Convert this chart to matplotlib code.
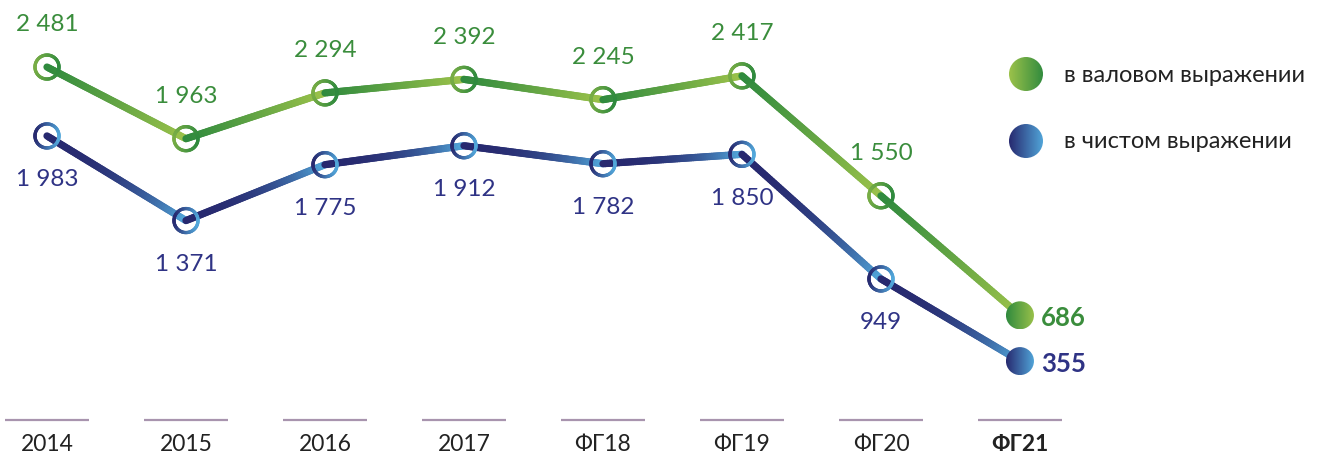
import numpy as np
import matplotlib
matplotlib.use("Agg")
import matplotlib.pyplot as plt
from matplotlib.collections import LineCollection
from matplotlib.colors import to_rgb
from matplotlib.patches import Circle
from matplotlib.transforms import ScaledTranslation

# ── data ────────────────────────────────────────────────────────────────────
periods = ["2014", "2015", "2016", "2017", "ФГ18", "ФГ19", "ФГ20", "ФГ21"]
gross = [2481, 1963, 2294, 2392, 2245, 2417, 1550, 686]
net = [1983, 1371, 1775, 1912, 1782, 1850, 949, 355]
gross_labels = ["2 481", "1 963", "2 294", "2 392", "2 245", "2 417", "1 550", "686"]
net_labels = ["1 983", "1 371", "1 775", "1 912", "1 782", "1 850", "949", "355"]
legend_names = ["в валовом выражении", "в чистом выражении"]

# ── styles ──────────────────────────────────────────────────────────────────
G_DARK, G_LIGHT, G_TEXT = "#2f8a3e", "#9cc24a", "#3a8d3c"
B_DARK, B_LIGHT, B_TEXT = "#27296f", "#52a8db", "#2f3385"
XLIM, YLIM = (-0.338, 9.209), (-324, 2973)

plt.rcParams["font.family"] = ["Lato", "DejaVu Sans"]
fig = plt.figure(figsize=(13.27, 4.56), dpi=100)
ax = fig.add_axes([0, 0, 1, 1])
ax.set_xlim(*XLIM)
ax.set_ylim(*YLIM)
ax.axis("off")


def mix(c1, c2, t):
    a, b = np.array(to_rgb(c1)), np.array(to_rgb(c2))
    return a + (b - a) * t


def grad_line(xs, ys, c_start, c_end, power=1.3, lw=5.2, n=60):
    segs, cols = [], []
    for i in range(len(xs) - 1):
        tx = np.linspace(xs[i], xs[i + 1], n + 1)
        ty = np.linspace(ys[i], ys[i + 1], n + 1)
        for k in range(n):
            segs.append([(tx[k], ty[k]), (tx[k + 1], ty[k + 1])])
            cols.append(mix(c_start, c_end, (k / n) ** power))
    ax.add_collection(LineCollection(segs, colors=cols, linewidths=lw,
                                     capstyle="round", zorder=2))


def at(x, y):
    # inch offsets around a data point
    return fig.dpi_scale_trans + ScaledTranslation(x, y, ax.transData)


def ring(x, y, c1, c2, r=0.12, lw=2.4, n=72):
    th = np.linspace(0, 2 * np.pi, n + 1)
    segs, cols = [], []
    for k in range(n):
        segs.append([(r * np.cos(th[k]), r * np.sin(th[k])),
                     (r * np.cos(th[k + 1]), r * np.sin(th[k + 1]))])
        t = (np.cos((th[k] + th[k + 1]) / 2) + 1) / 2  # left -> right
        cols.append(mix(c1, c2, t))
    ax.add_collection(LineCollection(segs, colors=cols, linewidths=lw,
                                     capstyle="round", transform=at(x, y), zorder=4))


def disc(x, y, c1, c2, r=0.14):
    px, py = ax.transData.transform((x, y))
    rp = r * fig.dpi
    (x0, y0), (x1, y1) = ax.transData.inverted().transform(
        [(px - rp, py - rp), (px + rp, py + rp)])
    img = np.array([[mix(c1, c2, t) for t in np.linspace(0, 1, 256)]])
    im = ax.imshow(img, extent=(x0, x1, y0, y1), aspect="auto",
                   interpolation="bilinear", zorder=5)
    im.set_clip_path(Circle((0, 0), r, transform=at(x, y)))


x = np.arange(len(periods))

grad_line(x, gross, G_DARK, G_LIGHT, power=1.1)
grad_line(x, net, B_DARK, B_LIGHT, power=2.6)

for i in range(len(x) - 1):
    ring(x[i], gross[i], "#78ad45", G_DARK)
    ring(x[i], net[i], B_DARK, B_LIGHT)
disc(x[-1], gross[-1], G_DARK, G_LIGHT)
disc(x[-1], net[-1], B_DARK, B_LIGHT)

# value labels
for i in range(len(x) - 1):
    ax.annotate(gross_labels[i], (x[i], gross[i]), xytext=(0, 31), textcoords="offset points",
                ha="center", va="center", fontsize=17.5, color=G_TEXT)
    ax.annotate(net_labels[i], (x[i], net[i]), xytext=(0, -31), textcoords="offset points",
                ha="center", va="center", fontsize=17.5, color=B_TEXT)
ax.annotate(gross_labels[-1], (x[-1], gross[-1]), xytext=(15, -1.5), textcoords="offset points",
            ha="left", va="center", fontsize=18.5, fontweight="bold", color=G_TEXT)
ax.annotate(net_labels[-1], (x[-1], net[-1]), xytext=(15, -1.5), textcoords="offset points",
            ha="left", va="center", fontsize=18.5, fontweight="bold", color=B_TEXT)

# category axis: short lines with labels
for i, p in enumerate(periods):
    ax.plot([x[i] - 0.3, x[i] + 0.3], [-72, -72], color="#a894ae", lw=1.6,
            solid_capstyle="butt", zorder=1)
    ax.text(x[i], -244, p, ha="center", va="center", fontsize=16.5, color="#222222",
            fontweight="bold" if i == len(periods) - 1 else "normal")

# legend
for k, (name, c1, c2) in enumerate([(legend_names[0], G_LIGHT, G_DARK),
                                    (legend_names[1], B_DARK, B_LIGHT)]):
    ly = 1 - (75 + 67 * k) / 456
    xd, yd = ax.transData.inverted().transform(fig.transFigure.transform((1026 / 1327, ly)))
    disc(xd, yd, c1, c2, r=0.17)
    fig.text(1064 / 1327, ly, name, ha="left", va="center", fontsize=17, color="#222222")

ax.set_xlim(*XLIM)
ax.set_ylim(*YLIM)
fig.savefig("out.png", dpi=100)
